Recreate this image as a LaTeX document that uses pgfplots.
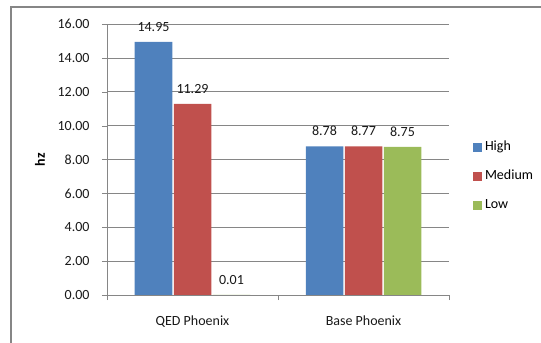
\documentclass[border=0pt]{standalone}
\usepackage{pgfplots}
\pgfplotsset{compat=1.18}
\usepackage{fontspec}
\setmainfont{Carlito}
\definecolor{exblue}{HTML}{4F81BD}
\definecolor{exred}{HTML}{C0504D}
\definecolor{exgreen}{HTML}{9BBB59}
\definecolor{exgrid}{HTML}{868686}
\begin{document}
\begin{tikzpicture}[font=\fontsize{14bp}{17bp}\selectfont]
\useasboundingbox (0bp,0bp) rectangle (541bp,343bp);
\draw[exgrid, line width=1.3bp] (11bp,-20bp) -- (11bp,336bp) -- (580bp,336bp);
\begin{axis}[
  at={(107bp,48bp)}, anchor=south west, scale only axis,
  width=342bp, height=271bp,
  ybar=1.5bp, bar width=37.5bp,
  ymin=0, ymax=16, ytick={0,2,...,16},
  xmin=-0.5, xmax=1.5,
  xtick={-0.5,0.5,1.5}, xticklabels={},
  extra x ticks={0,1}, extra x tick labels={QED Phoenix,Base Phoenix},
  extra x tick style={major tick length=0pt, tick style={draw=none}},
  axis x line*=bottom, axis y line*=left,
  axis line style={-, exgrid},
  tick style={exgrid}, tick align=outside, major tick length=5bp,
  ymajorgrids, grid style={exgrid, line width=0.6bp},
  /pgf/number format/.cd, fixed, fixed zerofill, precision=2, assume math mode=true, /pgfplots/.cd,
  yticklabel style={text=black!90, xshift=-9bp},
  xticklabel style={text=black!90, yshift=-17bp},
  ylabel={\textbf{hz}},
  ylabel style={at={(axis description cs:-0.196,0.5)}, anchor=center},
  nodes near coords,
  every node near coord/.append style={text=black!90, yshift=7bp},
  legend cell align=left,
  legend image code/.code={\fill[#1] (0bp,-4.5bp) rectangle (9bp,4.5bp);},
  legend style={at={(1.0702,0.5646)}, anchor=north west, draw=none, fill=none,
    inner sep=0pt, outer sep=0pt, row sep=17bp, column sep=3bp,
    nodes={inner sep=0pt, text height=9bp, text depth=3bp}},
]
\addplot[fill=exblue, draw=none] coordinates {(0,14.95) (1,8.78)};
\addplot[fill=exred, draw=none] coordinates {(0,11.29) (1,8.77)};
\addplot[fill=exgreen, draw=none] coordinates {(0,0.01) (1,8.75)};
\legend{High,Medium,Low}
\end{axis}
\end{tikzpicture}
\end{document}
